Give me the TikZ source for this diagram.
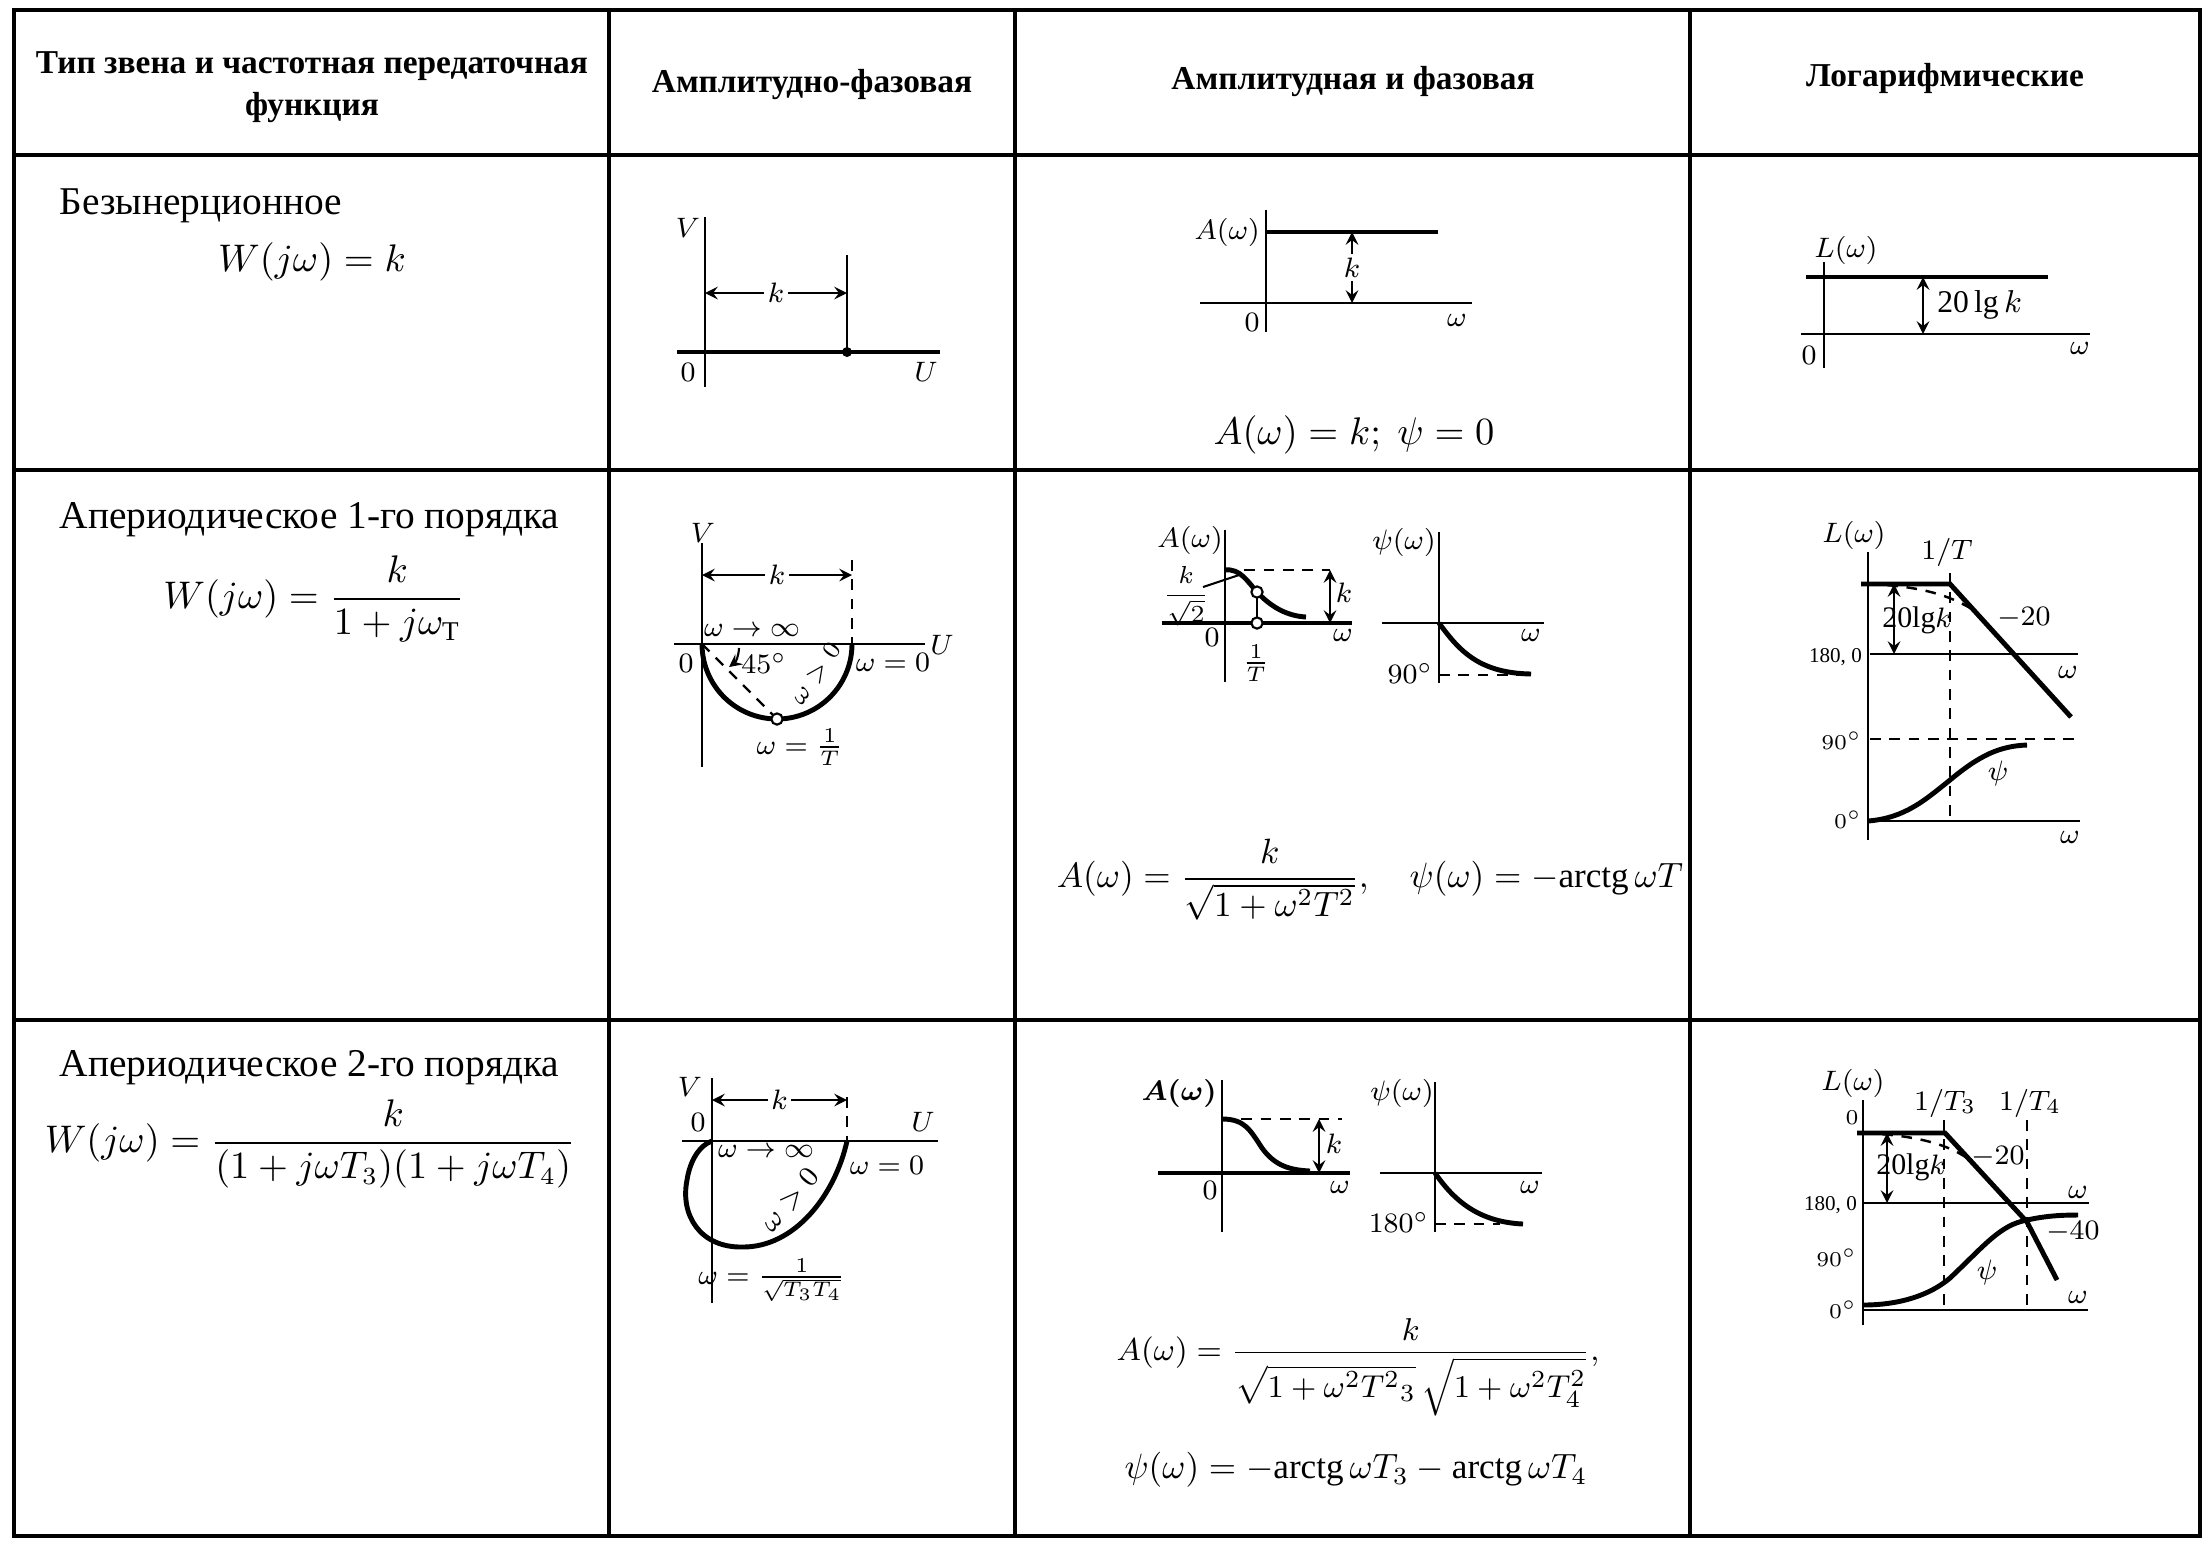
\documentclass[tikz,border=0pt]{standalone}
\usepackage{fontspec}
\usepackage{amsmath}
\setmainfont{Liberation Serif}

\begin{document}
\begin{tikzpicture}[x=0.1mm,y=-0.1mm,>=stealth,
		grid line/.style={line width=1pt},
		axis/.style={line width=0.6pt},
		curve/.style={line width=1.4pt},
		guide/.style={line width=0.7pt,dash pattern=on 3pt off 2.5pt},
		dim/.style={<->,line width=0.6pt},
		head/.style={font=\bfseries\fontsize{9.5}{12}\selectfont,align=center},
		rowlabel/.style={font=\fontsize{11.2}{13}\selectfont,anchor=west,inner sep=0pt},
		formula/.style={font=\fontsize{10.5}{12}\selectfont},
		lbl/.style={font=\fontsize{8}{9}\selectfont,inner sep=1pt},
		tiny/.style={font=\fontsize{6}{7}\selectfont,inner sep=1pt},
		ringmark/.style={circle,draw,fill=white,line width=0.6pt,inner sep=0pt,minimum size=3.2pt}]
		\useasboundingbox (0,0) rectangle (2210,1542);
		% таблица
		\draw[grid line] (14,10) rectangle (2200,1536);
		\foreach \x in {609,1015,1690}
			\draw[grid line] (\x,10) -- (\x,1536);
		\foreach \y in {155,470,1020}
			\draw[grid line] (14,\y) -- (2200,\y);
		
		\node[head] (h1) at (312,87) {Тип звена и частотная передаточная\\функция};
		\node[head] (h2) at (812,85) {Амплитудно-фазовая};
		\node[head] (h3) at (1353,82) {Амплитудная и фазовая};
		\node[head] (h4) at (1945,78) {Логарифмические};
		
		\node[rowlabel] (r1) at (59,206) {Безынерционное};
		\node[formula] (f1) at (312,262) {$W(j\omega)=k$};
		\node[rowlabel] (r2) at (59,520) {Апериодическое 1-го порядка};
		\node[formula,font=\fontsize{11}{13}\selectfont] (f2) at (314,599) {$W(j\omega)=\dfrac{k}{1+j\omega_{\mathrm{T}}}$};
		\node[rowlabel] (r3) at (59,1068) {Апериодическое 2-го порядка};
		\node[formula] (f3) at (310,1144) {$W(j\omega)=\dfrac{k}{(1+j\omega T_3)(1+j\omega T_4)}$};
		
		% безынерционное
		\draw[axis] (705,217) -- (705,387);
		\draw[curve] (677,352) -- (940,352);
		\draw[axis] (847,255) -- (847,352);
		\fill (847,352) circle[radius=5];
		\draw[dim] (705,293) -- node[lbl,fill=white] (k11) {$k$} (847,293);
		\node[lbl] (v11) at (688,228) {$V$};
		\node[lbl] (o11) at (688,372) {$0$};
		\node[lbl] (u11) at (926,372) {$U$};
		
		\draw[axis] (1266,210) -- (1266,332);
		\draw[curve] (1266,232) -- (1438,232);
		\draw[axis] (1200,303) -- (1472,303);
		\draw[dim] (1352,232) -- node[lbl,fill=white] (k12) {$k$} (1352,303);
		\node[lbl,anchor=east] (a12) at (1264,232) {$A(\omega)$};
		\node[lbl] (o12) at (1252,322) {$0$};
		\node[lbl] (w12) at (1457,320) {$\omega$};
		\node[formula,font=\fontsize{11.3}{13}\selectfont] (e12) at (1354,435) {$A(\omega)=k;\ \psi=0$};
		
		\draw[axis] (1824,262) -- (1824,368);
		\draw[curve] (1806,277) -- (2048,277);
		\draw[axis] (1801,334) -- (2090,334);
		\draw[dim] (1923,277) -- (1923,334);
		\node[lbl,anchor=west,font=\fontsize{9}{10}\selectfont] (g13) at (1933,305) {20\,lg\,$k$};
		\node[lbl] (l13) at (1846,250) {$L(\omega)$};
		\node[lbl] (o13) at (1809,355) {$0$};
		\node[lbl] (w13) at (2080,348) {$\omega$};
		
		% апериодическое 1-го порядка
		\draw[axis] (702,543) -- (702,767);
		\draw[axis] (674,644) -- (925,644);
		\draw[guide] (852,560) -- (852,644);
		\draw[dim] (702,575) -- node[lbl,fill=white] (k21) {$k$} (852,575);
		\draw[curve] plot[domain=180:360,smooth,samples=40] ({777+75*cos(\x)},{644-75*sin(\x)});
		\draw[guide] (702,644) -- (777,719);
		\node[ringmark] (m21) at (777,719) {};
		\draw[->,axis] (739,648) to[bend left=25] (729,667);
		\node[lbl] (d21) at (764,663) {$45^\circ$};
		\node[lbl] (i21) at (752,630) {$\omega\to\infty$};
		\node[lbl] (v21) at (703,533) {$V$};
		\node[lbl] (o21) at (686,663) {$0$};
		\node[lbl] (u21) at (942,645) {$U$};
		\node[lbl] (z21) at (893,662) {$\omega=0$};
		\node[lbl,rotate=55,font=\fontsize{7.5}{8}\selectfont] (p21) at (816,674) {$\omega>0$};
		\node[lbl] (t21) at (800,747) {$\omega=\frac{1}{T}$};
		
		\draw[axis] (1225,530) -- (1225,682);
		\draw[curve] (1162,623) -- (1352,623);
		\draw[guide] (1225,570) -- (1330,570);
		\draw[dim] (1330,570) -- (1330,623);
		\draw[curve] (1225,570) .. controls (1240,568) and (1248,582) .. (1257,592) .. controls (1272,608) and (1288,616) .. (1306,617);
		\draw[axis] (1257,592) -- (1257,623);
		\node[ringmark] (m22) at (1257,592) {};
		\node[ringmark] (n22) at (1257,623) {};
		\node[lbl] (a22) at (1190,540) {$A(\omega)$};
		\node[lbl,font=\fontsize{7.5}{8}\selectfont] (s22) at (1186,596) {$\dfrac{k}{\sqrt{2}}$};
		\draw[axis] (1203,587) -- (1242,574);
		\node[lbl] (o22) at (1212,637) {$0$};
		\node[lbl] (t22) at (1256,663) {$\frac{1}{T}$};
		\node[lbl] (w22) at (1343,635) {$\omega$};
		\node[lbl] (k22) at (1344,593) {$k$};
		
		\draw[axis] (1439,532) -- (1439,683);
		\draw[axis] (1382,623) -- (1544,623);
		\draw[curve] (1439,623) .. controls (1460,652) and (1480,673) .. (1531,674);
		\draw[guide] (1439,675) -- (1531,675);
		\node[lbl] (q22) at (1404,542) {$\psi(\omega)$};
		\node[lbl,anchor=east] (n90) at (1437,673) {$90^\circ$};
		\node[lbl] (x22) at (1531,635) {$\omega$};
		
		\node[formula,font=\fontsize{10}{12}\selectfont] (e22) at (1370,880) {$A(\omega)=\dfrac{k}{\sqrt{1+\omega^2T^2}},\quad \psi(\omega)=-\mathrm{arctg}\,\omega T$};
		
		\draw[axis] (1868,552) -- (1868,840);
		\draw[curve] (1861,584) -- (1950,584) -- (2071,717);
		\draw[guide] (1868,584) .. controls (1920,586) and (1950,595) .. (1975,611);
		\draw[guide] (1950,573) -- (1950,822);
		\draw[axis] (1870,654) -- (2078,654);
		\draw[dim] (1894,584) -- (1894,654);
		\node[lbl,font=\fontsize{8.5}{10}\selectfont] (g23) at (1917,620) {20lg$k$};
		\node[lbl] (s23) at (2024,618) {$-20$};
		\node[tiny,anchor=east] (c23) at (1866,657) {180, 0};
		\draw[guide] (1870,739) -- (2077,739);
		\node[tiny,anchor=east] (n23) at (1866,741) {$90^\circ$};
		\draw[axis] (1871,821) -- (2080,821);
		\node[tiny,anchor=east] (z23) at (1866,820) {$0^\circ$};
		\draw[curve] (1868,821) .. controls (1905,818) and (1925,800) .. (1950,780) .. controls (1980,755) and (2000,746) .. (2027,745);
		\node[lbl] (q23) at (1998,773) {$\psi$};
		\node[lbl] (l23) at (1854,535) {$L(\omega)$};
		\node[lbl] (t23) at (1947,552) {$1/T$};
		\node[lbl] (w23) at (2068,672) {$\omega$};
		\node[lbl] (x23) at (2070,837) {$\omega$};
		
		% апериодическое 2-го порядка
		\draw[axis] (712,1078) -- (712,1303);
		\draw[axis] (682,1141) -- (938,1141);
		\draw[guide] (847,1097) -- (847,1141);
		\draw[dim] (712,1100) -- node[lbl,fill=white] (k31) {$k$} (847,1100);
		\draw[curve] (847,1141) .. controls (835,1195) and (795,1247) .. (743,1247) .. controls (700,1248) and (680,1215) .. (687,1180) .. controls (690,1160) and (700,1145) .. (712,1141);
		\node[lbl] (v31) at (690,1087) {$V$};
		\node[lbl] (o31) at (698,1122) {$0$};
		\node[lbl] (u31) at (923,1122) {$U$};
		\node[lbl] (i31) at (766,1151) {$\omega\to\infty$};
		\node[lbl] (z31) at (887,1165) {$\omega=0$};
		\node[lbl,rotate=50] (p31) at (790,1200) {$\omega>0$};
		\node[lbl] (t31) at (772,1280) {$\omega=\frac{1}{\sqrt{T_3T_4}}$};
		
		\draw[axis] (1222,1080) -- (1222,1232);
		\draw[curve] (1158,1173) -- (1350,1173);
		\draw[guide] (1222,1119) -- (1342,1119);
		\draw[dim] (1319,1119) -- (1319,1173);
		\draw[curve] (1222,1119) .. controls (1245,1119) and (1250,1130) .. (1262,1148) .. controls (1275,1166) and (1290,1170) .. (1310,1171);
		\node[lbl,anchor=east] (a32) at (1221,1093) {$\boldsymbol{A(\omega)}$};
		\node[lbl] (o32) at (1210,1190) {$0$};
		\node[lbl] (w32) at (1340,1187) {$\omega$};
		\node[lbl] (k32) at (1334,1144) {$k$};
		
		\draw[axis] (1435,1082) -- (1435,1232);
		\draw[axis] (1380,1173) -- (1542,1173);
		\draw[curve] (1435,1173) .. controls (1455,1202) and (1480,1222) .. (1523,1224);
		\draw[guide] (1435,1224) -- (1500,1224);
		\node[lbl] (q32) at (1402,1093) {$\psi(\omega)$};
		\node[lbl,anchor=east] (n32) at (1433,1222) {$180^\circ$};
		\node[lbl] (x32) at (1530,1187) {$\omega$};
		
		\node[formula,font=\fontsize{9.5}{11}\selectfont] (e32) at (1358,1367) {$A(\omega)=\dfrac{k}{\sqrt{1+\omega^2T^2{}_3}\,\sqrt{1+\omega^2T_4^2}},$};
		\node[formula,font=\fontsize{10}{12}\selectfont] (e33) at (1356,1470) {$\psi(\omega)=-\mathrm{arctg}\,\omega T_3-\mathrm{arctg}\,\omega T_4$};
		
		\draw[axis] (1863,1100) -- (1863,1325);
		\draw[curve] (1857,1133) -- (1945,1133) -- (2027,1222) -- (2057,1280);
		\draw[guide] (1863,1133) .. controls (1910,1135) and (1945,1142) .. (1970,1160);
		\draw[guide] (1944,1120) -- (1944,1310);
		\draw[guide] (2027,1120) -- (2027,1310);
		\draw[axis] (1863,1203) -- (2089,1203);
		\draw[axis] (1863,1310) -- (2088,1310);
		\draw[dim] (1887,1133) -- (1887,1203);
		\draw[curve] (1863,1305) .. controls (1900,1305) and (1930,1295) .. (1950,1278) .. controls (1985,1245) and (2000,1225) .. (2027,1220) .. controls (2045,1216) and (2060,1215) .. (2078,1215);
		\node[lbl,font=\fontsize{8.5}{10}\selectfont] (g33) at (1911,1167) {20lg$k$};
		\node[lbl] (l33) at (1853,1083) {$L(\omega)$};
		\node[tiny] (o33) at (1852,1118) {$0$};
		\node[lbl] (t33) at (1945,1103) {$1/T_3$};
		\node[lbl] (r33) at (2030,1103) {$1/T_4$};
		\node[lbl] (w33) at (2078,1192) {$\omega$};
		\node[tiny,anchor=east] (c33) at (1861,1205) {180, 0};
		\node[lbl] (s33) at (1998,1157) {$-20$};
		\node[lbl] (f33) at (2073,1232) {$-40$};
		\node[tiny,anchor=east] (n33) at (1861,1258) {$90^\circ$};
		\node[tiny,anchor=east] (z33) at (1861,1310) {$0^\circ$};
		\node[lbl] (x33) at (2078,1297) {$\omega$};
		\node[lbl] (q33) at (1987,1272) {$\psi$};
	\end{tikzpicture}
\end{document}
